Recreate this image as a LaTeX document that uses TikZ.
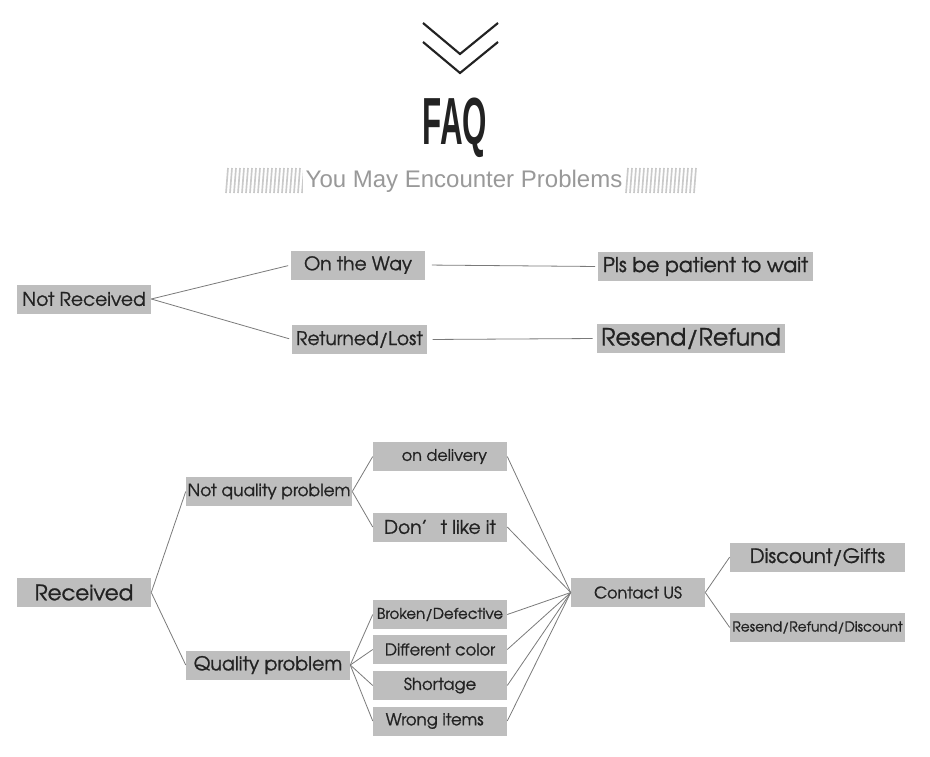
\documentclass[tikz,border=0pt]{standalone}
\usepackage{fontspec}
\setmainfont{Liberation Sans}
\newfontfamily\gothic[RawFeature={embolden=1.1}]{texgyreadventor-regular.otf}
\usepackage{xcolor}
\usetikzlibrary{positioning}

\definecolor{boxgray}{HTML}{BEBEBE}
\definecolor{linegray}{HTML}{7A7A7A}
\definecolor{stripegray}{HTML}{CACACA}
\definecolor{inkgray}{HTML}{222222}
\newcommand{\fsz}[1]{\fontsize{#1}{#1}\selectfont}

\tikzset{
    qbox/.style={fill=boxgray, inner sep=0pt, minimum width=100.5pt,
        minimum height=21.75pt, font=\gothic, text=inkgray},
    link/.style={draw=linegray, line width=0.6pt},
}

\begin{document}
\begin{tikzpicture}[x=0.75pt, y=-0.75pt]
    \useasboundingbox (0,0) rectangle (930,756);

    % 1. Tiêu đề
    \draw[inkgray, line width=1.6pt] (423,23) -- (460,54) -- (498,23);
    \draw[inkgray, line width=1.6pt] (423,42) -- (460,73) -- (498,42);
    \node[anchor=base, inner sep=0pt, text=inkgray] (faq) at (455,145)
        {\scalebox{0.47}[1]{\fsz{50}\bfseries FAQ}};
    \foreach \x in {226,230,...,694} {
        \draw[stripegray, line width=1.25pt] (\x,193) -- (\x+2,168);
    }
    \node[fill=white, inner xsep=2pt, minimum height=19pt, text=gray!80]
        (sub) at (464,181.5) {\fsz{18}You May Encounter Problems};

    % 2. Chưa nhận hàng
    \node[qbox] (nr) at (84,299) {\fsz{14}Not Received};
    \node[qbox] (way) at (358,265) {\fsz{14}On the Way};
    \node[qbox, minimum width=101.25pt] (lost) at (359.5,339.5) {\fsz{14}Returned/Lost};
    \node[qbox, minimum width=161.25pt] (wait) at (705.5,266.5) {\fsz{15.2}Pls be patient to wait};
    \node[qbox, minimum width=141pt] (resend) at (691,338.5) {\fsz{17.8}Resend/Refund};

    \draw[link, shorten >=2pt] (nr.east) -- (way.west);
    \draw[link, shorten >=2pt] (nr.east) -- (lost.west);
    \draw[link, shorten <=5pt, shorten >=2pt] (way.east) -- (wait.west);
    \draw[link, shorten <=4pt, shorten >=3pt] (lost.east) -- (resend.west);

    % 3. Đã nhận hàng
    \node[qbox] (rc) at (84,592.5) {\fsz{16}Received};
    \node[qbox, minimum width=124.5pt] (nq) at (269,491.5) {\fsz{12.7}Not quality problem};
    \node[qbox, minimum width=123pt] (qp) at (268,665) {\fsz{14.3}Quality problem};

    \node[qbox] (deliv) at (440,456.5) {\fsz{12}\hspace*{6.5pt}on delivery};
    \node[qbox] (dislike) at (440,527) {\fsz{14}Don’\hspace{0.7em}t like it};
    \node[qbox] (broken) at (440,614.5) {\fsz{11.2}Broken/Defective};
    \node[qbox] (color) at (440,649.5) {\fsz{12.2}Different color};
    \node[qbox] (short) at (440,685.5) {\fsz{12.3}Shortage};
    \node[qbox] (wrong) at (440,721) {\fsz{12.4}Wrong items\hspace*{8pt}};

    \node[qbox] (contact) at (638,592.5) {\fsz{12}Contact US};
    \node[qbox, minimum width=131.25pt] (gift) at (817.5,557) {\fsz{14.8}Discount/Gifts};
    \node[qbox, minimum width=131.25pt] (rrd) at (817.5,627.5) {\fsz{10.4}Resend/Refund/Discount};

    \draw[link] (rc.east) -- (nq.west);
    \draw[link] (rc.east) -- (qp.west);
    \draw[link] (nq.east) -- (deliv.west);
    \draw[link] (nq.east) -- (dislike.west);
    \foreach \n in {broken,color,short,wrong} {
        \draw[link] (qp.east) -- (\n.west);
    }
    \foreach \n in {deliv,dislike,broken,color,short,wrong} {
        \draw[link] (\n.east) -- (contact.west);
    }
    \draw[link] (contact.east) -- (gift.west);
    \draw[link] (contact.east) -- (rrd.west);
\end{tikzpicture}
\end{document}
